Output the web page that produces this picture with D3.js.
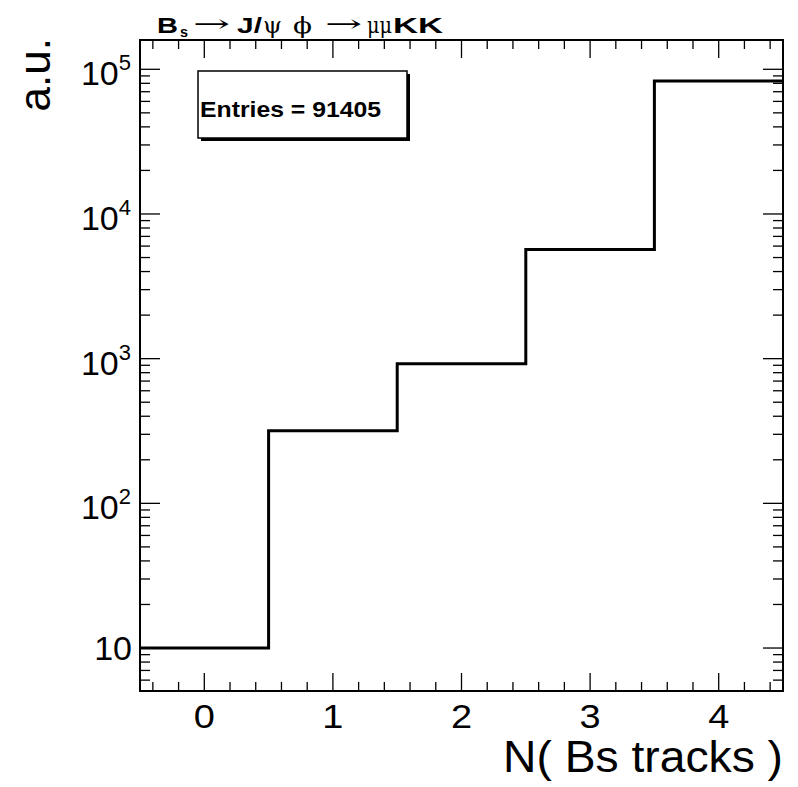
<!DOCTYPE html>
<html>
<head>
<meta charset="utf-8">
<script src="https://cdn.jsdelivr.net/npm/d3@7"></script>
<style>
  html, body { margin: 0; padding: 0; background: #fff; }
  svg { display: block; }
</style>
</head>
<body>
<svg id="chart" width="798" height="787"></svg>
<script>
// ---- data ----
const binCenters = [0, 1, 2, 3, 4];
const binCounts = [10, 318, 923, 5675, 83000];
const xTickValues = [0, 1, 2, 3, 4];
const xTickLabels = ["0", "1", "2", "3", "4"];
const yTickExponents = [1, 2, 3, 4, 5];
const xTitle = "N( Bs tracks )";
const yTitle = "a.u.";
const statsLabel = "Entries = 91405";

// ---- layout ----
const L = 140, R = 783, T = 40, B = 691;
const svg = d3.select("#chart");
const font = "'Liberation Sans', Arial, Helvetica, sans-serif";

const x = d3.scaleLinear().domain([-0.5, 4.5]).range([L, R]);
const y = d3.scaleLog().domain([Math.pow(10, 0.703), Math.pow(10, 5.2025)]).range([B, T]);

// minor ticks
const xMinor = d3.range(-0.4, 4.41, 0.2).map(v => Math.round(v * 10) / 10).filter(v => Math.abs(v - Math.round(v)) > 1e-6);
const yMajor = yTickExponents.map(e => Math.pow(10, e));
const yMinor = [];
for (let e = 0; e <= 5; e++) for (let m = 2; m <= 9; m++) {
  const v = m * Math.pow(10, e);
  if (v >= y.domain()[0] && v <= y.domain()[1]) yMinor.push(v);
}

const tg = svg.append("g").attr("stroke", "#000").attr("stroke-width", 1.3);
xTickValues.forEach(v => {
  tg.append("line").attr("x1", x(v)).attr("x2", x(v)).attr("y1", B).attr("y2", B - 18);
  tg.append("line").attr("x1", x(v)).attr("x2", x(v)).attr("y1", T).attr("y2", T + 18);
});
xMinor.forEach(v => {
  tg.append("line").attr("x1", x(v)).attr("x2", x(v)).attr("y1", B).attr("y2", B - 9);
  tg.append("line").attr("x1", x(v)).attr("x2", x(v)).attr("y1", T).attr("y2", T + 9);
});
yMajor.forEach(v => {
  tg.append("line").attr("x1", L).attr("x2", L + 20).attr("y1", y(v)).attr("y2", y(v));
  tg.append("line").attr("x1", R).attr("x2", R - 20).attr("y1", y(v)).attr("y2", y(v));
});
yMinor.forEach(v => {
  tg.append("line").attr("x1", L).attr("x2", L + 10).attr("y1", y(v)).attr("y2", y(v));
  tg.append("line").attr("x1", R).attr("x2", R - 10).attr("y1", y(v)).attr("y2", y(v));
});

// histogram step line
const pts = [];
binCenters.forEach((c, i) => {
  pts.push([x(c - 0.5), y(binCounts[i])]);
  pts.push([x(c + 0.5), y(binCounts[i])]);
});
svg.append("path")
  .attr("d", d3.line()(pts))
  .attr("fill", "none").attr("stroke", "#000").attr("stroke-width", 3)
  .attr("stroke-linejoin", "miter");

// frame
svg.append("rect").attr("x", L).attr("y", T).attr("width", R - L).attr("height", B - T)
  .attr("fill", "none").attr("stroke", "#000").attr("stroke-width", 2);

// x tick labels
xTickValues.forEach((v, i) => {
  svg.append("text").attr("x", x(v)).attr("y", 728)
    .attr("text-anchor", "middle").attr("font-family", font).attr("font-size", 33)
    .attr("transform", `translate(${x(v)},0) scale(1.15,1) translate(${-x(v)},0)`)
    .text(xTickLabels[i]);
});

// y tick labels
yTickExponents.forEach(e => {
  const yy = y(Math.pow(10, e));
  if (e === 1) {
    svg.append("text").attr("x", 132).attr("y", yy + 12)
      .attr("text-anchor", "end").attr("font-family", font).attr("font-size", 34)
      .text("10");
  } else {
    const t = svg.append("text").attr("x", 131).attr("y", yy + 16)
      .attr("text-anchor", "end").attr("font-family", font).attr("font-size", 34);
    t.append("tspan").text("10");
    t.append("tspan").attr("font-size", 22).attr("dy", -15).text(String(e));
  }
});

// axis titles
svg.append("text").attr("x", 783).attr("y", 772)
  .attr("text-anchor", "end").attr("font-family", font).attr("font-size", 44)
  .attr("textLength", 280).attr("lengthAdjust", "spacingAndGlyphs")
  .text(xTitle);
svg.append("text").attr("transform", "translate(50,38) rotate(-90)")
  .attr("text-anchor", "end").attr("font-family", font).attr("font-size", 44)
  .text(yTitle);

// stats box
svg.append("rect").attr("x", 201).attr("y", 74).attr("width", 209).attr("height", 67).attr("fill", "#000");
svg.append("rect").attr("x", 198).attr("y", 71).attr("width", 209).attr("height", 67)
  .attr("fill", "#fff").attr("stroke", "#000").attr("stroke-width", 1.5);
svg.append("text").attr("x", 200).attr("y", 117)
  .attr("font-family", font).attr("font-weight", "bold").attr("font-size", 22)
  .attr("textLength", 181).attr("lengthAdjust", "spacingAndGlyphs")
  .text(statsLabel);

// title pieces
const serif = "'DejaVu Serif', 'Liberation Serif', serif";
const titleParts = [
  {t: "B", x: 157, y: 33, w: 21, f: font, b: true, s: 22},
  {t: "s", x: 180, y: 37, w: 8, f: font, b: true, s: 15},
  {t: "\u2192", x: 193, y: 32, w: 37, f: serif, b: false, s: 24},
  {t: "J/", x: 237, y: 33, w: 25, f: font, b: true, s: 22},
  {t: "\u03C8", x: 263, y: 33, w: 19, f: serif, b: false, s: 23},
  {t: "\u03D5", x: 293, y: 33, w: 19, f: serif, b: false, s: 23},
  {t: "\u2192", x: 325, y: 32, w: 37, f: serif, b: false, s: 24},
  {t: "\u03BC\u03BC", x: 367, y: 33, w: 25, f: serif, b: false, s: 22},
  {t: "KK", x: 393, y: 33, w: 50, f: font, b: true, s: 22}
];
titleParts.forEach(p => {
  svg.append("text").attr("x", p.x).attr("y", p.y)
    .attr("font-family", p.f).attr("font-weight", p.b ? "bold" : "normal").attr("font-size", p.s)
    .attr("textLength", p.w).attr("lengthAdjust", "spacingAndGlyphs")
    .text(p.t);
});
</script>
</body>
</html>
